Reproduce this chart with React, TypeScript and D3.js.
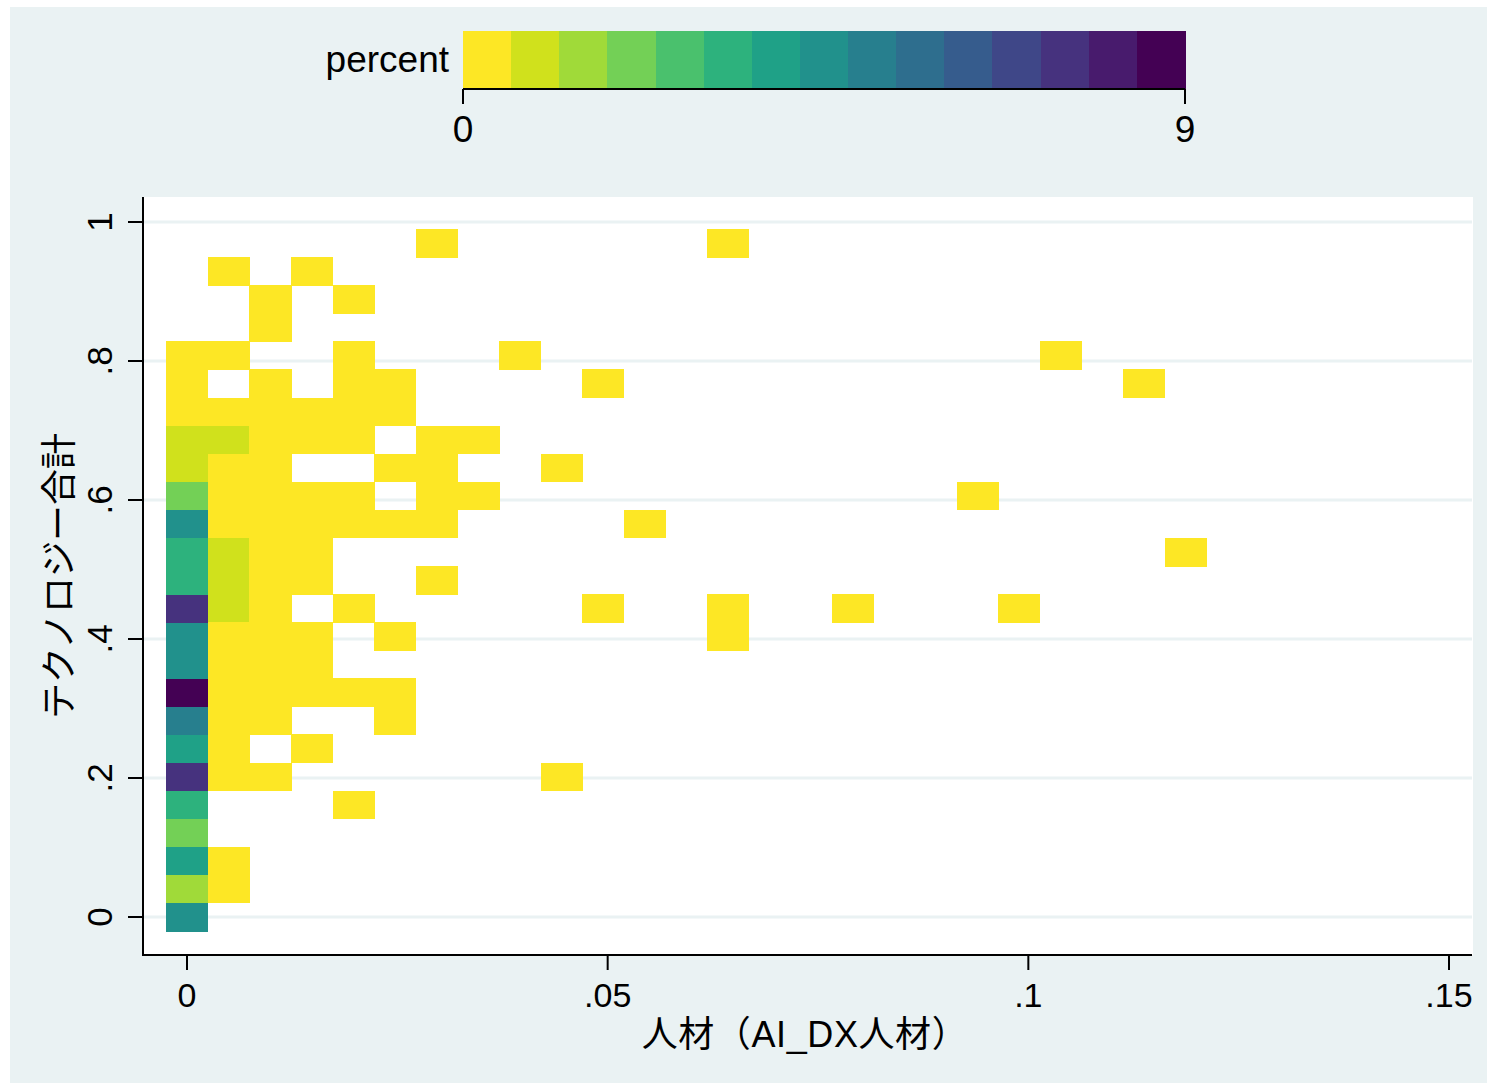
import React from "react";
import * as d3 from "d3";

// ---- data ----
const xBinWidth = 0.004945; // bin width on x (人材)
const yBinWidth = 0.0404; // bin height on y (テクノロジー合計)

// column 0 percents, by y-bin index 0..20
const col0Percent = [4.57, 1.71, 4.0, 2.29, 3.43, 7.43, 4.0, 5.14, 8.57, 4.57, 4.57, 7.43, 3.43, 3.43, 4.57, 2.29, 1.14, 1.14, 0.57, 0.57, 0.57];

// column 1 cells with two observations (x-bin, y-bin, percent)
const doubleCells: [number, number, number][] = [
  [1, 17, 1.14],
  [1, 13, 1.14],
  [1, 12, 1.14],
  [1, 11, 1.14],
];

// single-observation cells: y-bin index -> x-bin indices
const singleRows: [number, number[]][] = [
  [24, [6, 13]],
  [23, [1, 3]],
  [22, [2, 4]],
  [21, [2]],
  [20, [1, 4, 8, 21]],
  [19, [2, 4, 5, 10, 23]],
  [18, [1, 2, 3, 4, 5]],
  [17, [2, 3, 4, 6, 7]],
  [16, [1, 2, 5, 6, 9]],
  [15, [1, 2, 3, 4, 6, 7, 19]],
  [14, [1, 2, 3, 4, 5, 6, 11]],
  [13, [2, 3, 24]],
  [12, [2, 3, 6]],
  [11, [2, 4, 10, 13, 16, 20]],
  [10, [1, 2, 3, 5, 13]],
  [9, [1, 2, 3]],
  [8, [1, 2, 3, 4, 5]],
  [7, [1, 2, 5]],
  [6, [1, 3]],
  [5, [1, 2, 9]],
  [4, [4]],
  [2, [1]],
  [1, [1]],
];
const singlePercent = 0.57;

const xTicks = [0, 0.05, 0.1, 0.15];
const xTickLabels = ["0", ".05", ".1", ".15"];
const yTicks = [0, 0.2, 0.4, 0.6, 0.8, 1];
const yTickLabels = ["0", ".2", ".4", ".6", ".8", "1"];
const legendMin = 0;
const legendMax = 9;
const legendBins = 15;
const legendTickLabels = ["0", "9"];

const xTitle = "人材（AI_DX人材）";
const yTitle = "テクノロジー合計";
const legendTitle = "percent";

// ---- build cells ----
type Cell = { x: number; y: number; p: number };
const cells: Cell[] = [];
col0Percent.forEach((p, r) => cells.push({ x: 0, y: r * yBinWidth, p }));
doubleCells.forEach(([c, r, p]) => cells.push({ x: c * xBinWidth, y: r * yBinWidth, p }));
singleRows.forEach(([r, cs]) => cs.forEach((c) => cells.push({ x: c * xBinWidth, y: r * yBinWidth, p: singlePercent })));

const W = 1487;
const H = 1083;
const plot = { left: 143, right: 1473, top: 197, bottom: 955 };

const xScale = d3.scaleLinear().domain([0, 0.15]).range([187, 1449]);
const yScale = d3.scaleLinear().domain([0, 1]).range([917, 222]);

const binStep = (legendMax - legendMin) / legendBins;
const colors = d3.range(legendBins).map((i) => d3.interpolateViridis(1 - i / (legendBins - 1)));
const colorOf = (p: number) => colors[Math.min(legendBins - 1, Math.max(0, Math.floor((p - legendMin) / binStep)))];
const legendScale = d3.scaleLinear().domain([legendMin, legendMax]).range([463, 1185]);

const font = "'Liberation Sans', Arial, Helvetica, sans-serif";
const cjkFont = "'Liberation Sans', 'Noto Sans CJK JP', sans-serif";

export default function App() {
  const cw = xScale(xBinWidth) - xScale(0);
  const ch = yScale(0) - yScale(yBinWidth);
  return (
    <svg width={W} height={H} style={{ position: "absolute", left: 0, top: 0 }} xmlns="http://www.w3.org/2000/svg">
      <rect x={0} y={0} width={W} height={H} fill="#ffffff" />
      <rect x={10} y={7} width={W - 10} height={H - 7} fill="#eaf2f3" />
      {/* plot region */}
      <rect x={plot.left} y={plot.top} width={plot.right - plot.left} height={plot.bottom - plot.top} fill="#ffffff" />
      {yTicks.map((t) => (
        <line key={"g" + t} x1={plot.left} x2={plot.right - 1} y1={yScale(t)} y2={yScale(t)} stroke="#eaf2f3" strokeWidth={3} />
      ))}
      {/* cells */}
      {cells.map((c, i) => (
        <rect
          key={i}
          x={xScale(c.x) - cw / 2}
          y={yScale(c.y) - ch / 2}
          width={cw + 0.5}
          height={ch + 0.5}
          fill={colorOf(c.p)}
          shapeRendering="crispEdges"
        />
      ))}
      {/* axes */}
      <line x1={plot.left} x2={plot.left} y1={plot.top} y2={plot.bottom + 1} stroke="#000" strokeWidth={2} />
      <line x1={plot.left} x2={plot.right - 1} y1={plot.bottom} y2={plot.bottom} stroke="#000" strokeWidth={2} />
      {yTicks.map((t, i) => (
        <g key={"yt" + t}>
          <line x1={plot.left - 15} x2={plot.left} y1={yScale(t)} y2={yScale(t)} stroke="#000" strokeWidth={2} />
          <text
            transform={`translate(112,${yScale(t)}) rotate(-90)`}
            textAnchor="middle"
            fontFamily={font}
            fontSize={35}
            fill="#000"
          >
            {yTickLabels[i]}
          </text>
        </g>
      ))}
      {xTicks.map((t, i) => (
        <g key={"xt" + t}>
          <line x1={xScale(t)} x2={xScale(t)} y1={plot.bottom} y2={plot.bottom + 15} stroke="#000" strokeWidth={2} />
          <text x={xScale(t)} y={1007} textAnchor="middle" fontFamily={font} fontSize={34} fill="#000">
            {xTickLabels[i]}
          </text>
        </g>
      ))}
      <text x={805} y={1047} textAnchor="middle" fontFamily={cjkFont} fontSize={36} letterSpacing={0.6} fill="#000">
        {xTitle}
      </text>
      <text
        transform={`translate(72,${(plot.top + plot.bottom) / 2}) rotate(-90)`}
        textAnchor="middle"
        fontFamily={cjkFont}
        fontSize={36}
        fill="#000"
      >
        {yTitle}
      </text>
      {/* legend */}
      {colors.map((c, i) => (
        <rect
          key={"l" + i}
          x={legendScale(legendMin + i * binStep)}
          y={31}
          width={legendScale(legendMin + (i + 1) * binStep) - legendScale(legendMin + i * binStep) + 0.5}
          height={58}
          fill={c}
          shapeRendering="crispEdges"
        />
      ))}
      <line x1={legendScale(legendMin)} x2={legendScale(legendMax)} y1={89} y2={89} stroke="#000" strokeWidth={2} />
      {[legendMin, legendMax].map((v, i) => (
        <g key={"lt" + v}>
          <line x1={legendScale(v)} x2={legendScale(v)} y1={89} y2={104} stroke="#000" strokeWidth={2} />
          <text x={legendScale(v)} y={142} textAnchor="middle" fontFamily={font} fontSize={37} fill="#000">
            {legendTickLabels[i]}
          </text>
        </g>
      ))}
      <text x={449} y={72} textAnchor="end" fontFamily={font} fontSize={37} fill="#000">
        {legendTitle}
      </text>
    </svg>
  );
}
